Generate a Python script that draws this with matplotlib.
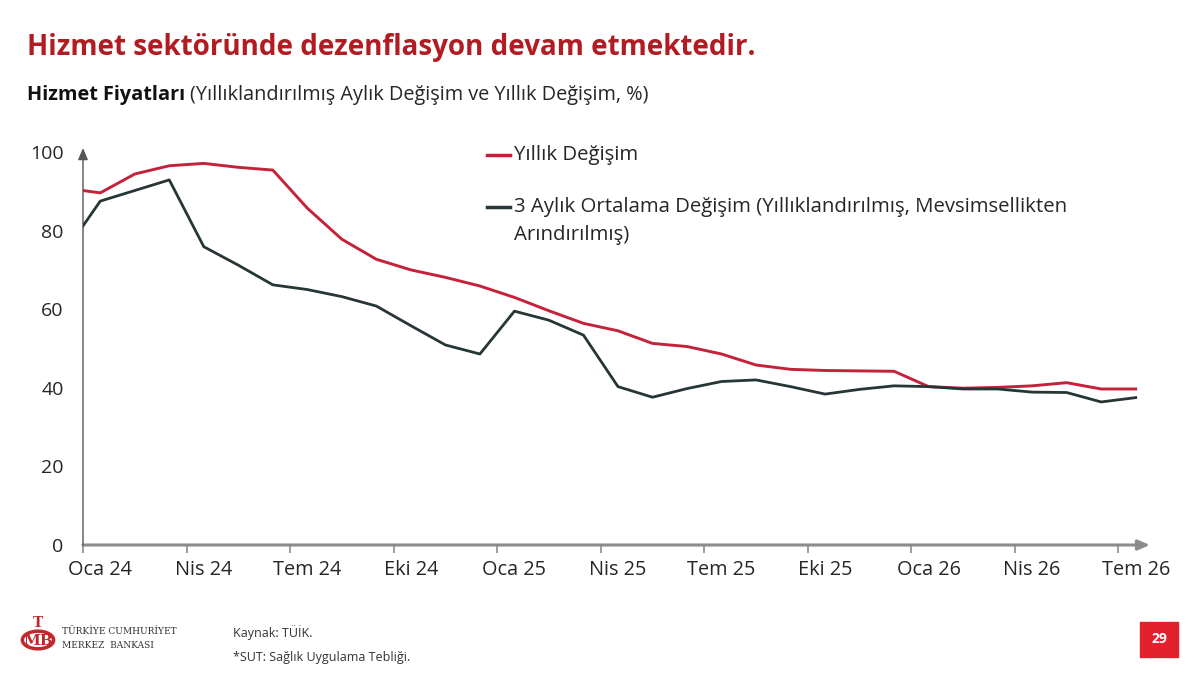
import matplotlib
matplotlib.use("Agg")
import matplotlib.pyplot as plt
from matplotlib.lines import Line2D
from matplotlib.patches import Rectangle, Circle
import numpy as np

plt.rcParams['font.family'] = ['Open Sans', 'DejaVu Sans']

# aylar: Ara 23 (eksende kirpiliyor) ... Tem 26
aylar = ['Ara 23',
         'Oca 24', 'Şub 24', 'Mar 24', 'Nis 24', 'May 24', 'Haz 24',
         'Tem 24', 'Ağu 24', 'Eyl 24', 'Eki 24', 'Kas 24', 'Ara 24',
         'Oca 25', 'Şub 25', 'Mar 25', 'Nis 25', 'May 25', 'Haz 25',
         'Tem 25', 'Ağu 25', 'Eyl 25', 'Eki 25', 'Kas 25', 'Ara 25',
         'Oca 26', 'Şub 26', 'Mar 26', 'Nis 26', 'May 26', 'Haz 26',
         'Tem 26']

yillik = [90.8,
          89.6, 94.4, 96.5, 97.1, 96.1, 95.4,
          85.7, 77.8, 72.7, 70.0, 68.1, 65.9,
          63.0, 59.6, 56.4, 54.5, 51.3, 50.5,
          48.6, 45.8, 44.7, 44.4, 44.3, 44.2,
          40.3, 39.9, 40.1, 40.5, 41.3, 39.7,
          39.7]

uc_aylik = [74.9,
            87.5, 90.2, 92.9, 75.9, 71.2, 66.2,
            65.0, 63.2, 60.8, 55.8, 50.9, 48.6,
            59.5, 57.2, 53.4, 40.3, 37.6, 39.8,
            41.6, 42.0, 40.3, 38.4, 39.6, 40.5,
            40.3, 39.7, 39.7, 38.9, 38.8, 36.4,
            37.5]

etiketler = ['Oca 24', 'Nis 24', 'Tem 24', 'Eki 24', 'Oca 25', 'Nis 25',
             'Tem 25', 'Eki 25', 'Oca 26', 'Nis 26', 'Tem 26']
y_ticks = [0, 20, 40, 60, 80, 100]

kirmizi = '#c4213b'
koyu = '#263636'
baslik_renk = '#b01c22'
yazi = '#262626'

x = np.arange(len(aylar)) - 1  # Oca 24 = 0

fig = plt.figure(figsize=(12, 6.78), dpi=100)
ax = fig.add_axes([83 / 1200, 133 / 678, (1150 - 83) / 1200, (545 - 152) / 678])

ax.plot(x, yillik, color=kirmizi, lw=2.1, solid_joinstyle='round', zorder=3)
ax.plot(x, uc_aylik, color=koyu, lw=2.0, solid_joinstyle='round', zorder=4)

x_max = (1150 - 100.7) / 34.5
ax.set_xlim(-0.5, x_max)
ax.set_ylim(0, 100)

for s in ax.spines.values():
    s.set_visible(False)

# eksenler (oklu)
ax.annotate('', xy=(1.0, 0), xytext=(0, 0), xycoords='axes fraction',
            arrowprops=dict(arrowstyle='-|>,head_length=0.7,head_width=0.3',
                            color='#8c8c8c', lw=2.2, shrinkA=0, shrinkB=0), zorder=2)
ax.annotate('', xy=(0, 1.01), xytext=(0, 0), xycoords='axes fraction',
            arrowprops=dict(arrowstyle='-|>,head_length=0.7,head_width=0.3',
                            color='#555555', lw=1.0, shrinkA=0, shrinkB=0), zorder=2)

# x ticks at month boundaries, labels at month centres
ax.set_xticks(np.arange(-0.5, 30, 3))
ax.set_xticklabels([])
ax.tick_params(axis='x', length=6, width=1.2, color='#8c8c8c', direction='out')
ax.set_xticks(np.arange(0, 31, 3), minor=True)
ax.set_xticklabels(etiketler, minor=True, fontsize=14.3, color=yazi)
ax.tick_params(axis='x', which='minor', length=0, pad=11)

ax.set_yticks(y_ticks)
ax.set_yticklabels([str(v) for v in y_ticks], fontsize=14, color=yazi)
ax.tick_params(axis='y', length=0, pad=14)

# legend (manual)
fig.add_artist(Line2D([487 / 1200, 510 / 1200], [1 - 155 / 678] * 2, color=kirmizi, lw=2.5))
fig.text(514 / 1200, 1 - 155 / 678, 'Yıllık Değişim', fontsize=14.7, va='center', color=yazi)
fig.add_artist(Line2D([487 / 1200, 510 / 1200], [1 - 207 / 678] * 2, color=koyu, lw=2.5))
fig.text(514 / 1200, 1 - 207 / 678, '3 Aylık Ortalama Değişim (Yıllıklandırılmış, Mevsimsellikten',
         fontsize=14.7, va='center', color=yazi)
fig.text(514 / 1200, 1 - 235 / 678, 'Arındırılmış)', fontsize=14.7, va='center', color=yazi)

# başlıklar
fig.text(27 / 1200, 1 - 47 / 678, 'Hizmet sektöründe dezenflasyon devam etmektedir.',
         fontsize=20, fontweight='bold', color=baslik_renk, va='center')
t = fig.text(27 / 1200, 1 - 95 / 678, 'Hizmet Fiyatları ', fontsize=14.3, fontweight='bold',
             color='#111111', va='center')
fig.canvas.draw()
bb = t.get_window_extent()
fig.text(bb.x1 / 1200, 1 - 95 / 678,
         '(Yıllıklandırılmış Aylık Değişim ve Yıllık Değişim, %)',
         fontsize=14.3, color=yazi, va='center')

# alt bilgi
fig.add_artist(Circle((38 / 1200, 1 - 640 / 678), 0.013, transform=fig.transFigure,
                      fill=False, ec='#c0282d', lw=2.5))
fig.text(38 / 1200, 1 - 641 / 678, 'MB', fontsize=11, fontweight='bold', color='#c0282d',
         ha='center', va='center', family='DejaVu Serif')
fig.text(38 / 1200, 1 - 623 / 678, 'T', fontsize=10, fontweight='bold', color='#c0282d',
         ha='center', va='center', family='DejaVu Serif')
fig.text(62 / 1200, 1 - 632 / 678, 'TÜRKİYE CUMHURİYET', fontsize=6.5, color='#333333',
         va='center', family='DejaVu Serif')
fig.text(62 / 1200, 1 - 645 / 678, 'MERKEZ  BANKASI', fontsize=6.5, color='#333333',
         va='center', family='DejaVu Serif')
fig.text(233 / 1200, 1 - 633 / 678, 'Kaynak: TÜİK.', fontsize=9, color='#333333', va='center')
fig.text(233 / 1200, 1 - 657 / 678, '*SUT: Sağlık Uygulama Tebliği.', fontsize=9,
         color='#333333', va='center')

fig.add_artist(Rectangle((1140 / 1200, 1 - 657 / 678), 38 / 1200, 35 / 678,
                         transform=fig.transFigure, color='#e2202e'))
fig.text(1159 / 1200, 1 - 639 / 678, '29', fontsize=10, fontweight='bold', color='white',
         ha='center', va='center')

fig.savefig('out.png', dpi=100)
